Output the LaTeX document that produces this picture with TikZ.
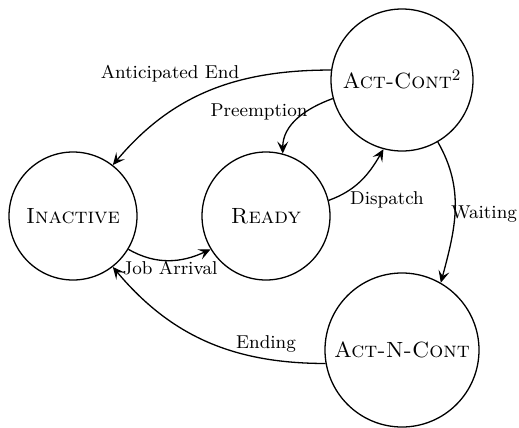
\documentclass[tikz,border=0pt]{standalone}
\usetikzlibrary{arrows.meta}
\begin{document}
\begin{tikzpicture}[x=0.5pt,y=-0.5pt,
  state/.style={draw,circle,line width=0.65pt,inner sep=0pt,font=\fontsize{11}{13}\selectfont},
  edge/.style={line width=0.65pt,-{Stealth[length=6pt,width=5.5pt,inset=2.5pt]}},
  lbl/.style={font=\fontsize{9.3}{11}\selectfont,inner sep=0pt}]
\useasboundingbox (0,0) rectangle (519,428);
\node[state,minimum size=64pt] (inact) at (73,216) {\textsc{Inactive}};
\node[state,minimum size=64pt] (ready) at (266,216) {\textsc{Ready}};
\node[state,minimum size=71pt] (ac) at (402,80) {\textsc{Act-Cont}$^2$};
\node[state,minimum size=77pt] (anc) at (402,350) {\textsc{Act-N-Cont}};
\draw[edge] (ac.172) to[out=180,in=50] (inact.52);
\draw[edge] (ac.195) to[out=200,in=90] (ready.75);
\draw[edge] (ready.14) to[out=20,in=240] (ac.255);
\draw[edge] (ac.300) to[out=-60,in=75] (anc.60);
\draw[edge] (inact.-31) to[out=-30,in=205] (ready.211);
\draw[edge] (anc.190) to[out=180,in=-50] (inact.308);
\node[lbl] (l1) at (170,74) {Anticipated End};
\node[lbl] (l2) at (259,112) {Preemption};
\node[lbl] (l3) at (387,200) {Dispatch};
\node[lbl] (l4) at (484,214) {Waiting};
\node[lbl] (l5) at (170,268) {Job Arrival};
\node[lbl] (l6) at (266,344) {Ending};
\end{tikzpicture}
\end{document}
